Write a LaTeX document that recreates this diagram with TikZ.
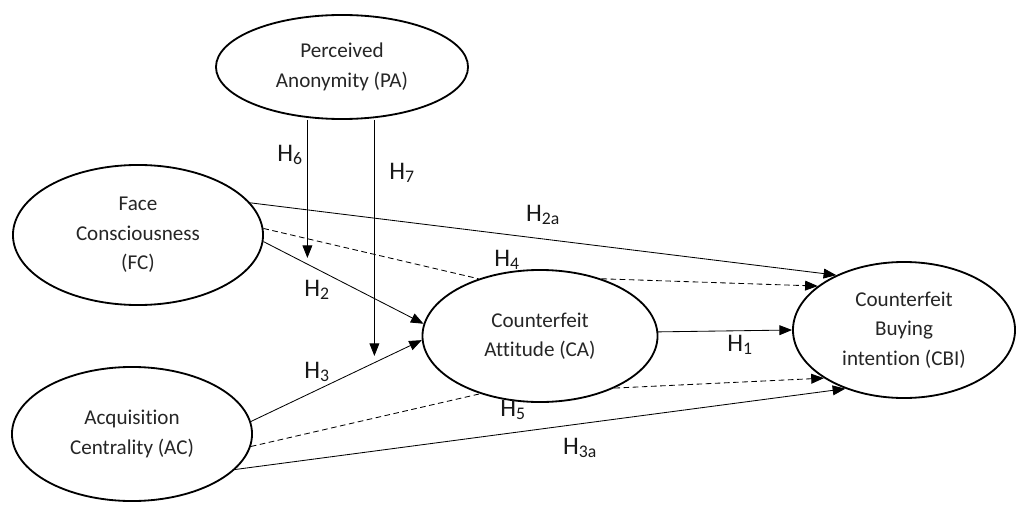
\documentclass[tikz,border=0pt]{standalone}
\usepackage{fontspec}
\setmainfont{Carlito}[Ligatures=NoCommon]
\usetikzlibrary{arrows.meta, shapes.geometric}

\begin{document}
\begin{tikzpicture}[
  x=0.025cm, y=-0.025cm,
  construct/.style={ellipse, draw, line width=1.3pt, fill=white, inner sep=0pt,
                    align=center, text=black!85, font=\fontsize{15}{21}\selectfont},
  arr/.style={-{Triangle[length=9pt, width=7pt]}, line width=0.6pt},
  darr/.style={arr, dash pattern=on 4pt off 2.5pt},
  hyp/.style={font=\fontsize{18}{20}\selectfont, text=black!90, inner sep=0pt},
]
\useasboundingbox (0,0) rectangle (1017,505);

% Constructs
\node[construct, minimum width=6.3cm, minimum height=2.6cm] (PA) at (342,67) {Perceived\\Anonymity (PA)};
\node[construct, minimum width=6.25cm, minimum height=3.5cm] (FC) at (138,235) {Face\\Consciousness\\(FC)};
\node[construct, minimum width=6.0cm, minimum height=3.35cm] (AC) at (132,434) {Acquisition\\Centrality (AC)};
\node[construct, minimum width=5.875cm, minimum height=3.3cm] (CA) at (540,336) {Counterfeit\\Attitude (CA)};
\node[construct, minimum width=5.55cm, minimum height=3.4cm] (CBI) at (904,330) {Counterfeit\\Buying\\intention (CBI)};

% Moderation arrows (free ends)
\coordinate (h6tip) at (307.4,258);
\coordinate (h7tip) at (374.4,356);
\draw[arr] (PA.south -| h6tip) -- (h6tip);
\draw[arr] (PA.south -| h7tip) -- (h7tip);

% Direct paths
\draw[arr] (FC.16) -- (CBI.141);
\draw[arr] (FC.-3) -- (CA.174);
\draw[arr] (AC.6) -- (CA.182);
\draw[arr] (AC.-19) -- (CBI.225);
\draw[arr] (CA.2) -- (CBI.180);

% Mediated paths
\draw[darr, -] (FC.3) -- (CA.137);
\draw[darr] (CA.43) -- (CBI.153);
\draw[darr, -] (AC.-6) -- (CA.224);
\draw[darr] (CA.-35) -- (CBI.211);

% Hypotheses
\node[hyp] (lh6) at (290,155) {H\textsubscript{6}};
\node[hyp] (lh7) at (402,173) {H\textsubscript{7}};
\node[hyp] (lh2a) at (543,215) {H\textsubscript{2a}};
\node[hyp] (lh4) at (507,260) {H\textsubscript{4}};
\node[hyp] (lh2) at (317,290) {H\textsubscript{2}};
\node[hyp] (lh1) at (740,345) {H\textsubscript{1}};
\node[hyp] (lh3) at (317,372) {H\textsubscript{3}};
\node[hyp] (lh5) at (513,410) {H\textsubscript{5}};
\node[hyp] (lh3a) at (580,448) {H\textsubscript{3a}};

\end{tikzpicture}
\end{document}
